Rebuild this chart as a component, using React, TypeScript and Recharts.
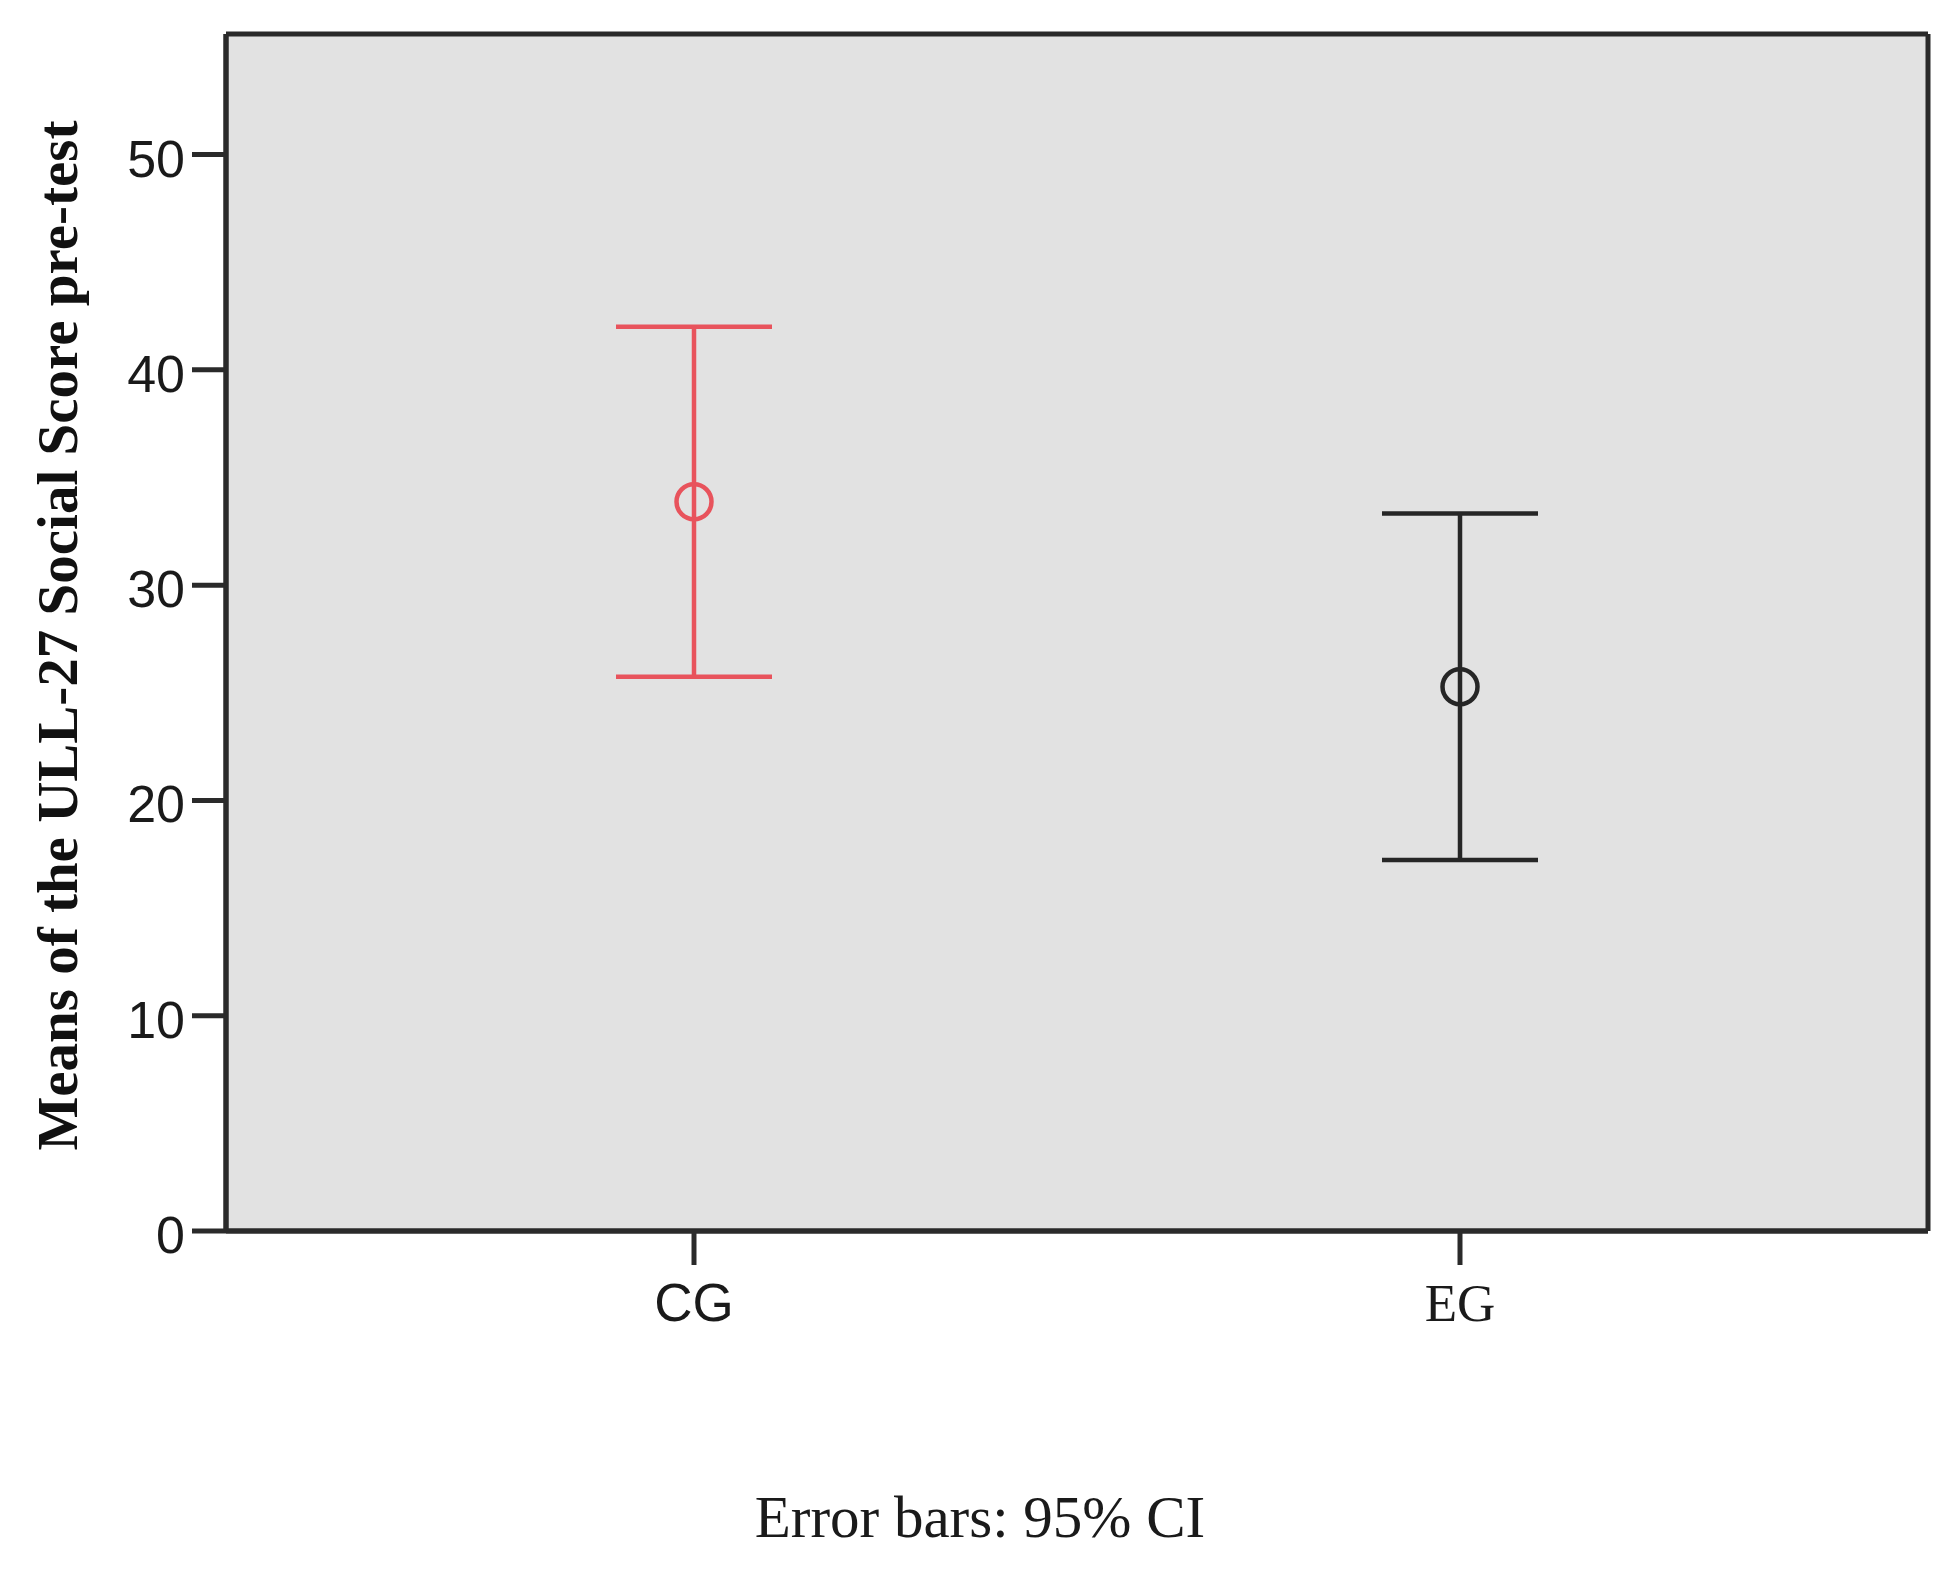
import React from 'react';
import { ComposedChart, Line, XAxis, YAxis, CartesianGrid, ErrorBar, Label } from 'recharts';

// ---- data ----
const groups = ['CG', 'EG'];
const means = [33.87, 25.28];
const ciLower = [25.75, 17.23];
const ciUpper = [42.0, 33.33];
const yTicks = [0, 10, 20, 30, 40, 50];
const yTitle = 'Means of the ULL-27 Social Score pre-test';
const footnote = 'Error bars: 95% CI';

// ---- styles ----
const CHART_W = 1960;
const CHART_H = 1580;
const seriesColors = ['#e8535c', '#262626'];
const axisColor = '#2a2a2a';
const textColor = '#1a1a1a';
const tickFonts = ['"Liberation Sans", Arial, sans-serif', '"Liberation Serif", "Times New Roman", serif'];

const table = groups.map((g, i) => {
  const row: any = { group: g };
  groups.forEach((_, s) => {
    row[`m${s}`] = s === i ? means[i] : null;
    row[`e${s}`] = s === i ? [means[i] - ciLower[i], ciUpper[i] - means[i]] : null;
  });
  return row;
});

const makeDot = (color: string) => (props: any) => {
  const { cx, cy, value, index } = props;
  if (value == null || cy == null || cx == null) return <g key={`d${index}`} />;
  return <circle key={`d${index}`} cx={cx} cy={cy} r={17.5} fill="none" stroke={color} strokeWidth={4.5} />;
};

const XTick = (props: any) => {
  const { x, y, payload, index } = props;
  return (
    <text x={x} y={y} dy="0.71em" textAnchor="middle" fontSize={53} fill={textColor}
      fontFamily={tickFonts[index % tickFonts.length]}>
      {payload.value}
    </text>
  );
};

const YTick = (props: any) => {
  const { x, y, payload } = props;
  return (
    <text x={x} y={y} dy={22} textAnchor="end" fontSize={52} fill={textColor}
      fontFamily='"Liberation Sans", Arial, sans-serif'>
      {payload.value}
    </text>
  );
};

const YTitle = (props: any) => {
  const vb = props.viewBox || { x: 0, y: 0, width: 0, height: 0 };
  const cx = vb.x + 77;
  const cy = vb.y + vb.height / 2 + 3;
  return (
    <text x={cx} y={cy} transform={`rotate(-90, ${cx}, ${cy})`} textAnchor="middle"
      fontSize={57} fontWeight="bold" fill="#111"
      fontFamily='"Liberation Serif", "Times New Roman", serif'>
      {yTitle}
    </text>
  );
};

const Footnote = () => (
  <text x={CHART_W / 2} y={1537} textAnchor="middle" fontSize={59} fill={textColor}
    fontFamily='"Liberation Serif", "Times New Roman", serif'>
    {footnote}
  </text>
);

export default function App() {
  return (
    <div style={{ position: 'absolute', left: 0, top: 0, background: '#fff' }}>
      <ComposedChart width={CHART_W} height={CHART_H} data={table}
        margin={{ top: 34, right: 32, bottom: 249, left: 0 }}>
        <CartesianGrid
          fill="#e2e2e2"
          fillOpacity={1}
          stroke={axisColor}
          strokeWidth={5}
          horizontalCoordinatesGenerator={({ offset }: any) => [offset.top, offset.top + offset.height]}
          verticalCoordinatesGenerator={({ offset }: any) => [offset.left, offset.left + offset.width]}
        />
        <XAxis dataKey="group" type="category" scale="band" height={100}
          padding={{ left: 85, right: 85 }}
          axisLine={{ stroke: axisColor, strokeWidth: 5 }}
          tickLine={{ stroke: axisColor, strokeWidth: 5 }}
          tickSize={34} tickMargin={18} tick={<XTick />} interval={0}>
          <Label content={<Footnote />} />
        </XAxis>
        <YAxis type="number" domain={[0, 55.6]} ticks={yTicks} width={226}
          allowDataOverflow
          axisLine={{ stroke: axisColor, strokeWidth: 5 }}
          tickLine={{ stroke: axisColor, strokeWidth: 5 }}
          tickSize={34} tickMargin={7} tick={<YTick />} interval={0}>
          <Label content={<YTitle />} />
        </YAxis>
        {groups.map((g, s) => (
          <Line key={g} dataKey={`m${s}`} stroke="none" isAnimationActive={false}
            dot={makeDot(seriesColors[s])} activeDot={false} legendType="none">
            <ErrorBar dataKey={`e${s}`} direction="y" width={78} stroke={seriesColors[s]}
              strokeWidth={4.5} isAnimationActive={false} />
          </Line>
        ))}
      </ComposedChart>
    </div>
  );
}
